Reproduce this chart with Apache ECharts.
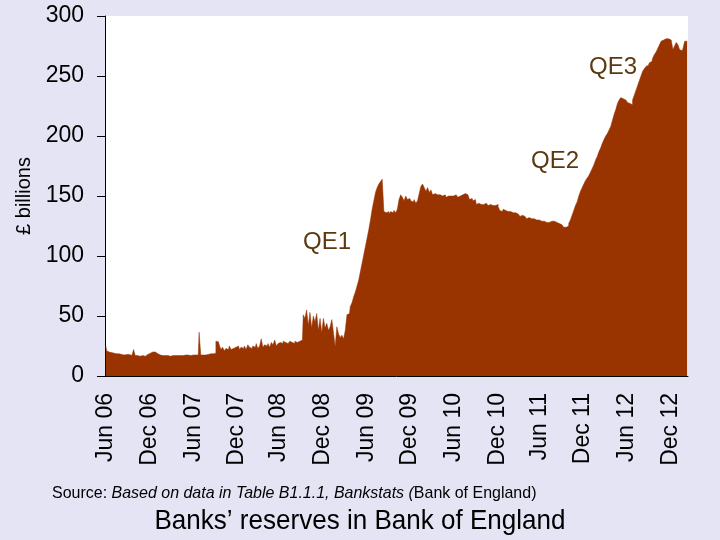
<!DOCTYPE html>
<html lang="en">
<head>
    <meta charset="UTF-8">
    <title>Banks' reserves in Bank of England</title>
    <script src="https://cdn.jsdelivr.net/npm/echarts@6/dist/echarts.min.js"></script>
    <style>
        html, body { margin: 0; padding: 0; background: #E4E4F4; }
        #chart { width: 720px; height: 540px; }
    </style>
</head>
<body>
    <div id="chart"></div>
    <script>
        // weekly reserves, £ billions, Jun 2006 - Feb 2013
        var reserves2006 = [25, 21, 20, 19.5, 19, 19, 18.5, 18, 18.5, 18, 18, 17.5, 18, 17.5, 18, 17, 17.5, 22, 17, 17, 16.5, 17, 17, 16.5, 17, 18,
            19, 20, 20, 20, 19.5, 18.5, 17.5, 17, 17, 17, 17, 17, 16.5, 17, 17, 17, 17.5, 17, 17, 17.5, 17, 17.5, 17, 17.5, 17, 17.5];
        var reserves2007 = [17.5, 17.5, 17, 17.5, 36.5, 17.5, 17.5, 17.5, 17.5, 18, 18.5, 18, 18.5, 19, 29, 28.5, 26, 22, 24, 21, 23, 22, 25, 22, 23, 24,
            23, 25, 22, 24, 23, 25, 22, 26, 24, 23, 25, 24, 27, 23, 25, 31, 24, 26, 25, 27, 24, 28, 26, 30, 25, 27];
        var reserves2008 = [28, 27, 29, 28, 27, 28, 29, 28, 27, 29, 28, 29, 28, 30, 51, 48, 55, 42, 53, 40, 50, 45, 52, 38, 48, 36,
            48, 40, 44, 38, 41, 47, 36, 24.5, 41, 35, 32, 34, 31, 38, 51, 52, 58, 61, 66, 70, 75, 80, 87, 94, 101, 108];
        var reserves2009 = [115, 122, 130, 139, 146, 153, 157, 160, 162, 164, 137, 136, 137, 135, 137, 136, 138, 136, 139, 147, 151, 149, 146, 150, 147, 148,
            146, 145, 147, 144, 146, 152, 158, 160, 157, 154, 157, 153, 155, 151, 152, 151, 150, 151, 150, 150, 151, 149, 150, 150, 149, 150];
        var reserves2010 = [151, 150, 149, 150, 151, 152, 152, 151, 150, 147, 148, 146, 147, 143, 144, 143, 144, 143, 144, 143, 142, 143, 142, 143, 142, 143,
            141, 138, 137, 139, 138, 137, 138, 137, 136, 137, 136, 135, 134, 133, 134, 133, 132, 131, 132, 131, 130, 131, 130, 129, 130, 129];
        var reserves2011 = [128, 129, 128, 129, 128, 129, 130, 129, 128, 127, 127, 126, 125, 124, 124, 125, 127, 130, 134, 138, 142, 145, 150, 154, 157, 160,
            163, 165, 167, 170, 173, 176, 180, 183, 187, 190, 194, 197, 200, 202, 205, 208, 213, 218, 222, 227, 230, 232, 231, 230, 229, 228];
        var reserves2012 = [227, 226, 230, 234, 238, 242, 246, 250, 254, 256, 258, 259, 261, 262, 265, 268, 270, 273, 276, 279, 280, 281, 282, 281, 280, 279,
            272, 275, 278, 276, 272, 271, 273, 279, 279];

        var tickLabels = ['Jun 06', 'Dec 06', 'Jun 07', 'Dec 07', 'Jun 08', 'Dec 08', 'Jun 09',
            'Dec 09', 'Jun 10', 'Dec 10', 'Jun 11', 'Dec 11', 'Jun 12', 'Dec 12'];
        var tickWeeks = [0, 26, 52, 78, 103, 129, 155, 181, 207, 233, 258, 284, 310, 336];

        var reserves = [].concat(reserves2006, reserves2007, reserves2008, reserves2009,
            reserves2010, reserves2011, reserves2012);

        var weeks = reserves.map(function (v, i) {
            var k = tickWeeks.indexOf(i);
            return k >= 0 ? tickLabels[k] : 'w' + i;
        });

        function isTick(i) {
            return tickWeeks.indexOf(i) >= 0;
        }

        var font = '"Liberation Sans", Arial, sans-serif';
        var qeColor = '#5C3A10';

        var chart = echarts.init(document.getElementById('chart'));
        var option = {
            backgroundColor: '#E4E4F4',
            animation: false,
            grid: {
                left: 105,
                right: 32,
                top: 16,
                bottom: 164,
                show: true,
                backgroundColor: '#FFFFFF',
                borderWidth: 0
            },
            xAxis: {
                type: 'category',
                data: weeks,
                boundaryGap: true,
                axisLine: { lineStyle: { color: '#000', width: 1 } },
                axisTick: {
                    interval: isTick,
                    length: 7,
                    lineStyle: { color: '#000' }
                },
                axisLabel: {
                    interval: isTick,
                    rotate: 90,
                    margin: 17,
                    color: '#000',
                    fontSize: 23,
                    fontFamily: font
                },
                splitLine: { show: false }
            },
            yAxis: {
                type: 'value',
                min: 0,
                max: 300,
                interval: 50,
                name: '£ billions',
                nameLocation: 'middle',
                nameGap: 69,
                nameTextStyle: { color: '#000', fontSize: 20, fontFamily: font },
                axisLine: { show: true, lineStyle: { color: '#000', width: 1 } },
                axisTick: { show: true, length: 8, lineStyle: { color: '#000' } },
                axisLabel: { color: '#000', fontSize: 23, fontFamily: font, margin: 21 },
                splitLine: { show: false }
            },
            series: [{
                type: 'line',
                data: reserves,
                step: 'middle',
                symbol: 'none',
                lineStyle: { width: 0.5, color: '#993300' },
                areaStyle: { color: '#993300', opacity: 1 },
                z: 1
            }],
            graphic: [
                {
                    type: 'text', x: 303, y: 242,
                    style: { text: 'QE1', fill: qeColor, font: '24px ' + font, textVerticalAlign: 'middle' }
                },
                {
                    type: 'text', x: 531, y: 161,
                    style: { text: 'QE2', fill: qeColor, font: '24px ' + font, textVerticalAlign: 'middle' }
                },
                {
                    type: 'text', x: 589, y: 67,
                    style: { text: 'QE3', fill: qeColor, font: '24px ' + font, textVerticalAlign: 'middle' }
                },
                {
                    type: 'text', x: 52, y: 493, scaleX: 0.94,
                    style: {
                        text: '{n|Source: }{i|Based on data in Table B1.1.1, Bankstats (}{n|Bank of England)}',
                        textVerticalAlign: 'middle',
                        rich: {
                            n: { fontSize: 17, fontFamily: font, fill: '#000' },
                            i: { fontSize: 17, fontFamily: font, fontStyle: 'italic', fill: '#000' }
                        }
                    }
                },
                {
                    type: 'text', x: 360, y: 521, scaleX: 0.93,
                    style: {
                        text: 'Banks’ reserves in Bank of England', fill: '#000', font: '28px ' + font,
                        textAlign: 'center', textVerticalAlign: 'middle'
                    }
                }
            ]
        };
        chart.setOption(option);
    </script>
</body>
</html>
